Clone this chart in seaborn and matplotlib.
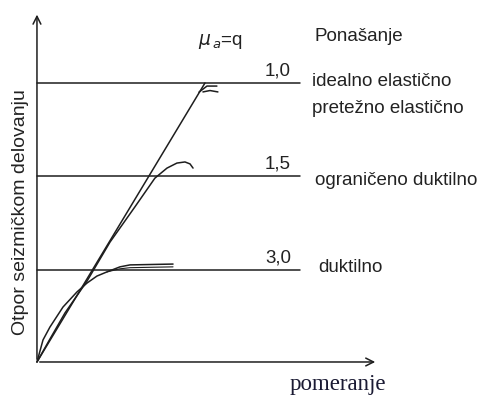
import matplotlib
matplotlib.use("Agg")
import matplotlib.pyplot as plt
import seaborn as sns

# --- data (displacement, resistance; resistance normalised to elastic level) ---
levels = [1.0, 0.667, 0.330]
level_labels = ["1,0", "1,5", "3,0"]

elastic_x = [0.0, 1.0]
elastic_y = [0.0, 1.0]
hook_a_x = [0.964, 1.012, 1.071]
hook_a_y = [0.967, 0.989, 0.989]
hook_b_x = [0.988, 1.03, 1.077]
hook_b_y = [0.968, 0.973, 0.968]

q15_x = [0.0, 0.077, 0.167, 0.298, 0.435, 0.583, 0.702, 0.774, 0.833, 0.881, 0.911, 0.929]
q15_y = [0.0, 0.082, 0.176, 0.290, 0.430, 0.556, 0.659, 0.695, 0.713, 0.717, 0.710, 0.695]

q30_x = [0.0, 0.036, 0.077, 0.155, 0.238, 0.298, 0.357, 0.417, 0.494, 0.554, 0.810]
q30_y = [0.0, 0.079, 0.125, 0.197, 0.251, 0.283, 0.308, 0.323, 0.341, 0.348, 0.351]
q30b_x = [0.417, 0.494, 0.554, 0.810]
q30b_y = [0.323, 0.334, 0.338, 0.341]

sns.set_style("white")
plt.rcParams['font.family'] = ['Liberation Sans', 'DejaVu Sans']

fig = plt.figure(figsize=(4.81, 3.96), dpi=100)
ax = fig.add_axes([0, 0, 1, 1])
ax.set_xlim(-0.220, 2.643)
ax.set_ylim(-0.1219, 1.2975)
ax.axis("off")

lc = "#1e1e1e"
lw = 1.1

# axes arrows
ax.annotate("", xy=(0, 1.255), xytext=(0, 0),
            arrowprops=dict(arrowstyle="->", color=lc, lw=lw, mutation_scale=14))
ax.annotate("", xy=(2.03, 0.0), xytext=(0, 0),
            arrowprops=dict(arrowstyle="->", color=lc, lw=lw, mutation_scale=14))

# level lines
for lv in levels:
    sns.lineplot(x=[0.0, 1.565], y=[lv, lv], ax=ax, color=lc, lw=lw)

# curves
sns.lineplot(x=elastic_x, y=elastic_y, ax=ax, color=lc, lw=lw)
sns.lineplot(x=hook_a_x, y=hook_a_y, ax=ax, color=lc, lw=lw, sort=False)
sns.lineplot(x=hook_b_x, y=hook_b_y, ax=ax, color=lc, lw=lw, sort=False)
sns.lineplot(x=q15_x, y=q15_y, ax=ax, color=lc, lw=lw, sort=False)
sns.lineplot(x=q30_x, y=q30_y, ax=ax, color=lc, lw=lw, sort=False)
sns.lineplot(x=q30b_x, y=q30b_y, ax=ax, color=lc, lw=0.8, sort=False)

fs = 13.5
tc = "#222222"
# level labels
for lv, lab in zip(levels, level_labels):
    ax.text(1.435, lv + 0.012, lab, ha="center", va="bottom", fontsize=fs, color=tc)

ax.text(1.64, 1.005, "idealno elastično", ha="left", va="center", fontsize=fs, color=tc)
ax.text(1.64, 0.91, "pretežno elastično", ha="left", va="center", fontsize=fs, color=tc)
ax.text(1.655, 0.649, "ograničeno duktilno", ha="left", va="center", fontsize=fs, color=tc)
ax.text(1.673, 0.337, "duktilno", ha="left", va="center", fontsize=fs, color=tc)

ax.text(1.65, 1.168, "Ponašanje", ha="left", va="center", fontsize=fs, color=tc)
ax.text(1.095, 1.147, r"$\mu_{\,a}$=q", ha="center", va="center", fontsize=fs, color=tc)

ax.text(1.79, -0.08, "pomeranje", ha="center", va="center", fontsize=16.5,
        family=["Liberation Serif", "DejaVu Serif"], color="#1a1a33")
ax.text(-0.10, 0.538, "Otpor seizmičkom delovanju", ha="center", va="center",
        rotation=90, fontsize=14, color=tc)

fig.savefig("out.png", dpi=100)
